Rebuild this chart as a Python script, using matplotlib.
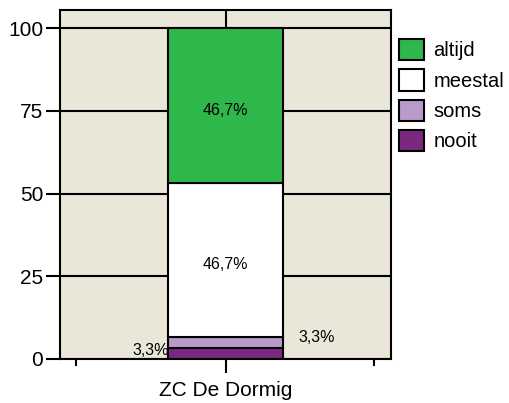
import matplotlib
matplotlib.use('Agg')
import matplotlib.pyplot as plt
from matplotlib.patches import Patch

plt.rcParams['font.family'] = ['Liberation Sans', 'DejaVu Sans']

category = 'ZC De Dormig'
series = ['nooit', 'soms', 'meestal', 'altijd']
values = [3.3, 3.3, 46.7, 46.7]
colors = ['#7b2980', '#b89bca', '#ffffff', '#2eb84b']
labels = ['3,3%', '3,3%', '46,7%', '46,7%']
yticks = [0, 25, 50, 75, 100]

fig = plt.figure(figsize=(5.1, 4.03), dpi=100)
ax = fig.add_axes([60/510, 44/403, 331/510, 349/403])
ax.set_facecolor('#ebe7d8')

bottom = 0
for name, v, c in zip(series, values, colors):
    ax.bar(0, v, width=0.35, bottom=bottom, color=c, edgecolor='black',
           linewidth=1.5, label=name, zorder=3)
    bottom += v

# labels of the segments
ax.text(0, values[0] + values[1] + values[2] + values[3] / 2 - 1.5, labels[3],
        ha='center', va='center', fontsize=11.5, zorder=4)
ax.text(0, values[0] + values[1] + values[2] / 2 - 1.3, labels[2],
        ha='center', va='center', fontsize=11.5, zorder=4)
ax.text(-0.172, values[0] * 0.8, labels[0], ha='right', va='center',
        fontsize=11.5, zorder=2)
ax.text(0.22, values[0] + values[1], labels[1], ha='left', va='center',
        fontsize=11.5, zorder=4)

ax.set_xlim(-0.5, 0.5)
ax.set_ylim(0, 105.5)
ax.set_yticks(yticks)
ax.set_yticklabels([str(t) for t in yticks], fontsize=15)
ax.set_xticks([0])
ax.set_xticklabels([category], fontsize=15)
ax.set_xticks([-0.452, 0.449], minor=True)
ax.tick_params(axis='both', which='major', length=10, width=1.5, pad=2)
ax.tick_params(axis='x', which='minor', length=5, width=1.5)
ax.tick_params(axis='x', which='major', pad=6)

ax.grid(True, color='black', linewidth=1.5, zorder=1)
ax.set_axisbelow(True)
for s in ax.spines.values():
    s.set_linewidth(1.5)
    s.set_zorder(5)

handles = [Patch(facecolor=c, edgecolor='black', linewidth=1.5, label=n)
           for n, c in zip(series[::-1], colors[::-1])]
fig.legend(handles=handles, loc='upper left', bbox_to_anchor=(399/510, 1 - 39/403),
           frameon=False, fontsize=14.5, handlelength=1.25, handleheight=1.25,
           labelspacing=0.44, handletextpad=0.45, borderpad=0, borderaxespad=0)

fig.savefig('out.png', dpi=100)
